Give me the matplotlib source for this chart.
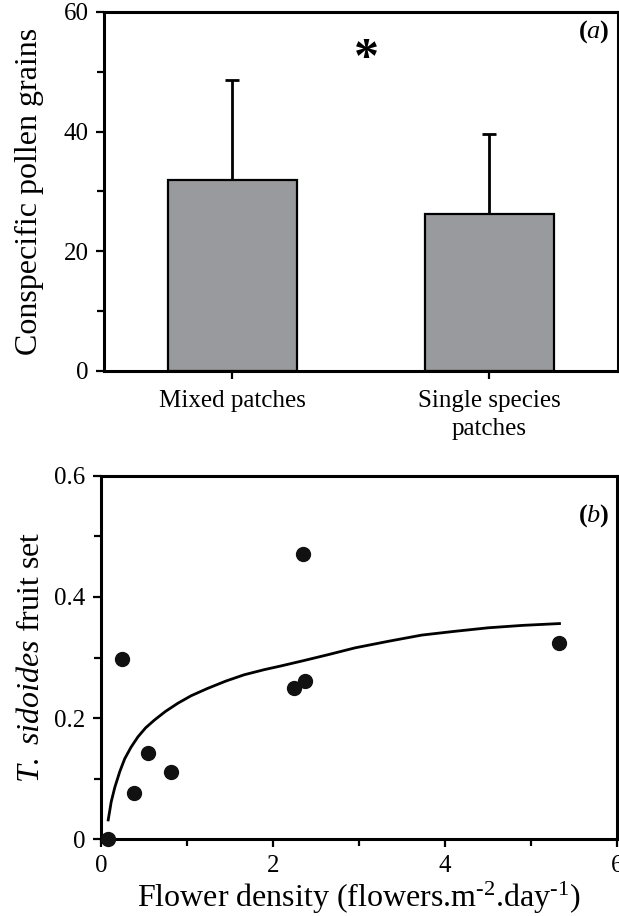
import matplotlib
matplotlib.use("Agg")
import matplotlib.pyplot as plt
from matplotlib.ticker import MultipleLocator

plt.rcParams['font.family'] = ['Liberation Serif', 'DejaVu Serif']
plt.rcParams['mathtext.fontset'] = 'custom'
plt.rcParams['mathtext.rm'] = 'Liberation Serif'
plt.rcParams['mathtext.it'] = 'Liberation Serif:italic'
plt.rcParams['mathtext.bf'] = 'Liberation Serif:bold'

# (a) pollen grains per patch type
patch_types = ["Mixed patches", "Single species\npatches"]
pollen_mean = [31.9, 26.2]
pollen_err = [16.7, 13.4]

# (b) fruit set vs flower density
density = [0.08, 0.25, 0.39, 0.55, 0.81, 2.24, 2.37, 2.35, 5.33]
fruit_set = [0.0, 0.297, 0.076, 0.143, 0.111, 0.249, 0.262, 0.471, 0.324]

# fitted curve
fit_x = [0.085, 0.12, 0.162, 0.22, 0.277, 0.35, 0.43, 0.52, 0.624, 0.75, 0.894,
         1.05, 1.24, 1.45, 1.665, 1.9, 2.09, 2.36, 2.65, 2.956, 3.35, 3.73,
         4.1, 4.5, 4.9, 5.33]
fit_y = [0.032, 0.062, 0.086, 0.112, 0.133, 0.152, 0.169, 0.184, 0.197, 0.211, 0.2245,
         0.237, 0.249, 0.261, 0.2715, 0.280, 0.286, 0.295, 0.305, 0.316, 0.327, 0.337,
         0.343, 0.349, 0.353, 0.356]

bar_color = '#999a9e'
spine_w = 2.2

fig = plt.figure(figsize=(6.19, 9.16), dpi=100)

# ---- panel (a)
ax1 = fig.add_axes([0.168, 0.595, 0.830, 0.392])
xpos = range(len(patch_types))
ax1.bar(xpos, pollen_mean, width=0.5, color=bar_color, edgecolor='black', linewidth=1.6, zorder=2)
ax1.errorbar(xpos, pollen_mean, yerr=[[0, 0], pollen_err], fmt='none', ecolor='black',
             elinewidth=2, capsize=5, capthick=2, zorder=1)
ax1.set_xlim(-0.5, 1.5)
ax1.set_ylim(0, 60)
ax1.set_xticks(list(xpos))
ax1.set_xticklabels(patch_types, fontsize=18, linespacing=1.3)
ax1.yaxis.set_major_locator(MultipleLocator(20))
ax1.yaxis.set_minor_locator(MultipleLocator(10))
ax1.set_ylabel("Conspecific pollen grains", fontsize=23, labelpad=14)
ax1.text(0.52, 52.0, "*", fontsize=36, fontweight='bold', ha='center', va='center')
ax1.text(0.985, 0.945, r"($\mathbf{\mathit{a}}$)", transform=ax1.transAxes,
         fontsize=19, fontweight='bold', ha='right', va='center')

# ---- panel (b)
ax2 = fig.add_axes([0.163, 0.0837, 0.834, 0.397])
ax2.plot(fit_x, fit_y, color='black', linewidth=2, zorder=2)
ax2.plot(density, fruit_set, 'o', color='#111111', markersize=10, zorder=3, clip_on=False)
ax2.set_xlim(0, 6)
ax2.set_ylim(0, 0.6)
ax2.xaxis.set_minor_locator(MultipleLocator(1))
ax2.yaxis.set_minor_locator(MultipleLocator(0.1))
ax2.set_yticks([0, 0.2, 0.4, 0.6])
ax2.set_yticklabels(["0", "0.2", "0.4", "0.6"])
ax2.set_xticks([0, 2, 4, 6])
ax2.set_xticklabels(["0", "2", "4", "6"])
ax2.set_xlabel(r"Flower density (flowers.m$^{\text{-2}}$.day$^{\text{-1}}$)",
               fontsize=23, labelpad=2)
ax2.set_ylabel(r"$\mathit{T.\ sidoides}$ fruit set", fontsize=23, labelpad=6)
ax2.text(0.985, 0.89, r"($\mathbf{\mathit{b}}$)", transform=ax2.transAxes,
         fontsize=19, fontweight='bold', ha='right', va='center')

for ax in (ax1, ax2):
    for s in ax.spines.values():
        s.set_linewidth(spine_w)
    ax.tick_params(which='both', direction='out', width=1.6, labelsize=18, pad=5)
    ax.tick_params(which='major', length=6)
    ax.tick_params(which='minor', length=5)
ax1.tick_params(axis='x', labelsize=18, pad=8)

fig.savefig("out.png", dpi=100)
